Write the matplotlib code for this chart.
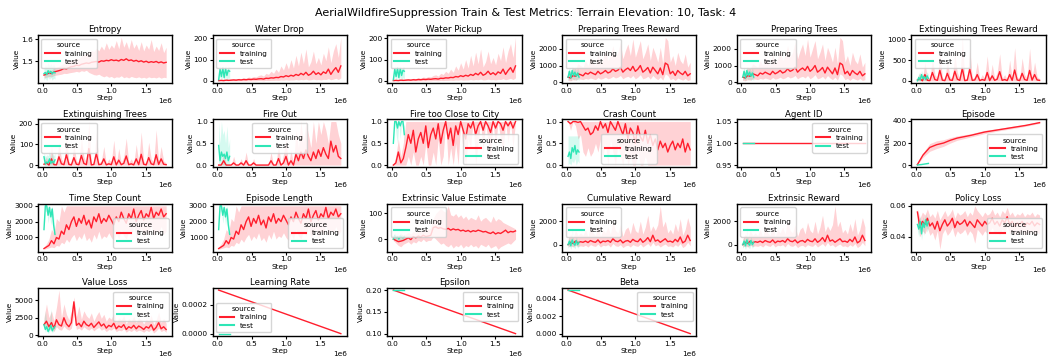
import numpy as np
import matplotlib

matplotlib.use("Agg")
import matplotlib.pyplot as plt

RED = "#ff1e2d"
TEAL = "#2ee6b6"

# x positions of the logged points
train_steps = np.linspace(0.02e6, 1.8e6, 50)
test_steps = [20000, 40000, 60000, 80000, 100000, 120000, 140000, 160000, 180000]
episode_steps = [20000, 100000, 200000, 300000, 400000, 500000, 600000, 800000,
                 1000000, 1200000, 1400000, 1600000, 1800000]
line_steps = [20000, 1800000]
line_test_steps = [20000, 180000]

# ---- Entropy
entropy_mean = [1.438, 1.442, 1.447, 1.445, 1.452, 1.455, 1.458, 1.462, 1.468, 1.466,
                1.472, 1.476, 1.478, 1.483, 1.481, 1.487, 1.490, 1.493, 1.491, 1.496,
                1.498, 1.500, 1.497, 1.503, 1.501, 1.505, 1.503, 1.508, 1.504, 1.506,
                1.502, 1.509, 1.505, 1.512, 1.504, 1.507, 1.501, 1.505, 1.499, 1.503,
                1.497, 1.501, 1.495, 1.499, 1.496, 1.500, 1.494, 1.498, 1.493, 1.496]
entropy_lo = [1.425, 1.428, 1.432, 1.430, 1.436, 1.438, 1.440, 1.442, 1.446, 1.445,
              1.448, 1.450, 1.452, 1.455, 1.452, 1.458, 1.455, 1.460, 1.450, 1.445,
              1.440, 1.438, 1.442, 1.435, 1.430, 1.435, 1.428, 1.432, 1.425, 1.430,
              1.428, 1.435, 1.426, 1.430, 1.425, 1.432, 1.428, 1.426, 1.430, 1.425,
              1.428, 1.424, 1.430, 1.426, 1.428, 1.425, 1.430, 1.424, 1.428, 1.426]
entropy_hi = [1.452, 1.458, 1.462, 1.460, 1.470, 1.474, 1.478, 1.485, 1.492, 1.488,
              1.500, 1.505, 1.510, 1.515, 1.512, 1.525, 1.530, 1.540, 1.535, 1.550,
              1.545, 1.560, 1.548, 1.570, 1.552, 1.585, 1.555, 1.575, 1.560, 1.595,
              1.558, 1.610, 1.565, 1.590, 1.555, 1.600, 1.560, 1.580, 1.550, 1.590,
              1.548, 1.575, 1.555, 1.600, 1.545, 1.570, 1.550, 1.585, 1.540, 1.565]
entropy_test = [1.445, 1.450, 1.440, 1.458, 1.447, 1.455, 1.443, 1.452, 1.448]
entropy_test_lo = [1.415, 1.425, 1.412, 1.430, 1.420, 1.428, 1.415, 1.425, 1.420]
entropy_test_hi = [1.470, 1.485, 1.475, 1.495, 1.480, 1.490, 1.478, 1.488, 1.475]

# ---- Water Drop / Water Pickup
water_mean = [1, 2, 1, 3, 2, 3, 4, 3, 5, 4,
              6, 5, 7, 6, 8, 7, 9, 10, 8, 12,
              11, 14, 13, 16, 15, 20, 18, 24, 20, 26,
              22, 30, 25, 35, 28, 40, 26, 32, 45, 30,
              38, 28, 42, 35, 55, 30, 48, 62, 40, 70]
water_lo = [0, 0, 0, 0, 0, 0, 0, 0, 0, 0,
            0, 0, 0, 0, 0, 0, 1, 1, 0, 2,
            1, 2, 2, 3, 2, 4, 3, 5, 3, 4,
            4, 6, 4, 6, 5, 8, 4, 5, 8, 5,
            6, 4, 7, 6, 10, 5, 8, 12, 6, 14]
water_hi = [3, 5, 4, 8, 6, 8, 10, 8, 12, 10,
            15, 12, 18, 15, 20, 18, 25, 28, 22, 35,
            30, 45, 35, 55, 40, 70, 50, 85, 55, 100,
            60, 120, 70, 135, 80, 150, 65, 90, 140, 80,
            110, 75, 130, 95, 160, 85, 140, 175, 110, 205]
water_test = [5, 55, 20, 60, 15, 58, 25, 50, 45]
water_test_lo = [0, 20, 0, 25, 0, 20, 0, 15, 10]
water_test_hi = [20, 70, 45, 70, 40, 70, 50, 68, 65]

# ---- Preparing Trees (Reward)
prep_mean = [300, 250, 400, 350, 500, 450, 380, 550, 480, 600,
             520, 450, 650, 500, 580, 700, 550, 620, 800, 650,
             720, 900, 600, 750, 850, 700, 950, 650, 780, 1000,
             600, 720, 880, 550, 900, 700, 500, 850, 450, 1150,
             1050, 500, 650, 400, 700, 550, 450, 650, 380, 500]
prep_lo = [100, 80, 150, 120, 200, 180, 150, 220, 180, 250,
           200, 150, 280, 180, 220, 300, 200, 250, 350, 250,
           300, 400, 200, 300, 350, 250, 400, 200, 300, 450,
           200, 250, 350, 180, 400, 250, 150, 300, 120, 500,
           400, 150, 220, 100, 250, 180, 120, 220, 100, 150]
prep_hi = [700, 600, 900, 800, 1100, 1000, 900, 1300, 1000, 1500,
           1200, 1000, 1700, 1100, 1400, 1900, 1300, 1600, 2200, 1500,
           1800, 2400, 1400, 1900, 2300, 1600, 2600, 1500, 2000, 2500,
           1400, 1800, 2300, 1300, 2100, 1700, 1200, 2100, 1100, 2700,
           2500, 1200, 1600, 1000, 1800, 1300, 1100, 1700, 900, 1200]
prep_test = [300, 650, 250, 700, 400, 600, 350, 550, 300]
prep_test_lo = [100, 200, 80, 250, 120, 200, 100, 180, 100]
prep_test_hi = [600, 900, 550, 950, 700, 900, 650, 850, 600]

# ---- Extinguishing Trees Reward
ext_reward_mean = [20, 50, 0, 150, 10, 5, 200, 30, 10, 250,
                   15, 5, 180, 20, 10, 230, 40, 10, 300, 5,
                   15, 280, 10, 20, 150, 5, 30, 10, 200, 5,
                   120, 10, 40, 220, 10, 30, 5, 150, 10, 260,
                   20, 5, 180, 30, 10, 250, 15, 150, 20, 10]
ext_reward_lo = [0] * 50
ext_reward_hi = [80, 200, 20, 450, 60, 30, 550, 150, 50, 700,
                 80, 30, 500, 100, 60, 650, 200, 50, 1050, 30,
                 80, 780, 50, 100, 450, 30, 150, 60, 600, 30,
                 400, 50, 200, 650, 60, 150, 30, 500, 60, 800,
                 100, 30, 550, 150, 60, 780, 80, 450, 100, 50]
ext_reward_test = [0, 80, 20, 150, 50, 100, 30, 120, 60]
ext_reward_test_lo = [0, 0, 0, 20, 0, 10, 0, 10, 0]
ext_reward_test_hi = [50, 200, 100, 250, 150, 200, 100, 220, 150]

# ---- Extinguishing Trees
ext_trees_mean = [4, 10, 0, 30, 2, 1, 40, 6, 2, 50,
                  3, 1, 36, 4, 2, 46, 8, 2, 80, 1,
                  3, 56, 2, 4, 30, 1, 6, 2, 40, 1,
                  24, 2, 8, 44, 2, 6, 1, 30, 2, 52,
                  4, 1, 36, 6, 2, 50, 3, 30, 4, 2]
ext_trees_lo = [0] * 50
ext_trees_hi = [16, 40, 4, 90, 12, 6, 110, 30, 10, 140,
                16, 6, 100, 20, 12, 130, 40, 10, 210, 6,
                16, 156, 10, 20, 90, 6, 30, 12, 120, 6,
                80, 10, 40, 130, 12, 30, 6, 100, 12, 160,
                20, 6, 110, 30, 12, 170, 16, 90, 20, 10]
ext_trees_test = [40, 5, 15, 10, 30, 8, 20, 10, 25]
ext_trees_test_lo = [0, 0, 0, 0, 0, 0, 0, 0, 0]
ext_trees_test_hi = [60, 40, 50, 45, 70, 40, 60, 45, 55]

# ---- Fire Out
fire_out_mean = [0, 0, 0.1, 0, 0, 0, 0.05, 0, 0, 0.05,
                 0, 0.1, 0, 0, 0.05, 0, 0, 0, 0, 0,
                 0, 0.1, 0, 0, 0.15, 0, 0.05, 0.2, 0, 0.1,
                 0, 0.25, 0.1, 0.3, 0.15, 0.35, 0.2, 0.1, 0.3, 0.15,
                 0.35, 0.2, 0.4, 0.25, 0.15, 0.55, 0.3, 0.45, 0.2, 0.15]
fire_out_lo = [0] * 50
fire_out_hi = [0, 0, 0.3, 0, 0, 0, 0.2, 0, 0, 0.15,
               0, 0.3, 0, 0, 0.15, 0, 0, 0, 0, 0,
               0, 0.3, 0, 0, 0.5, 0, 0.25, 0.6, 0, 0.35,
               0, 0.8, 0.4, 1.0, 0.5, 1.0, 0.7, 0.4, 1.0, 0.5,
               1.0, 0.7, 1.0, 0.8, 0.5, 1.0, 1.0, 1.0, 0.7, 0.5]
fire_out_test = [0.45, 0.1, 0.3, 0.2, 0.25, 0.15, 0.3, 0.1, 0.2]
fire_out_test_lo = [0, 0, 0, 0, 0, 0, 0, 0, 0]
fire_out_test_hi = [1.0, 0.5, 1.0, 0.7, 0.8, 0.5, 0.9, 0.4, 0.6]

# ---- Fire too Close to City
fire_close_mean = [0.0, 0.05, 0.3, 0.05, 0.15, 0.4, 0.7, 0.5, 0.8, 0.3,
                   0.6, 0.75, 0.5, 0.9, 0.4, 0.7, 0.85, 0.6, 0.95, 0.5,
                   0.8, 1.0, 0.6, 0.85, 0.45, 0.9, 0.7, 1.0, 0.8, 0.6,
                   0.95, 0.85, 1.0, 0.7, 0.9, 1.0, 0.8, 1.0, 0.9, 0.75,
                   1.0, 0.85, 1.0, 0.95, 0.8, 1.0, 0.9, 1.0, 0.85, 1.0]
fire_close_lo = [0, 0, 0, 0, 0, 0, 0.2, 0, 0.3, 0,
                 0, 0.2, 0, 0.5, 0, 0, 0.3, 0, 0.6, 0,
                 0.2, 1.0, 0, 0.4, 0, 0.5, 0, 1.0, 0.3, 0,
                 0.6, 0.4, 1.0, 0, 0.5, 1.0, 0.3, 1.0, 0.5, 0.2,
                 1.0, 0.4, 1.0, 0.6, 0.3, 1.0, 0.5, 1.0, 0.4, 1.0]
fire_close_hi = [0, 0.2, 0.6, 0.2, 0.5, 1, 1, 1, 1, 1,
                 1, 1, 1, 1, 1, 1, 1, 1, 1, 1,
                 1, 1, 1, 1, 1, 1, 1, 1, 1, 1,
                 1, 1, 1, 1, 1, 1, 1, 1, 1, 1,
                 1, 1, 1, 1, 1, 1, 1, 1, 1, 1]
fire_close_test = [0.5, 1.0, 1.0, 0.85, 1.0, 0.9, 1.0, 1.0, 0.7]
fire_close_test_lo = [0.5, 1.0, 0.7, 0.5, 1.0, 0.6, 1.0, 0.8, 0.5]
fire_close_test_hi = [0.5, 1, 1, 1, 1, 1, 1, 1, 0.9]

# ---- Crash Count
crash_mean = [1.0, 0.95, 1.0, 1.0, 0.98, 1.0, 0.9, 0.8, 0.85, 0.7,
              0.75, 0.9, 0.8, 1.0, 0.85, 0.95, 0.75, 1.0, 0.9, 0.8,
              1.0, 0.85, 0.7, 0.95, 0.6, 0.85, 0.75, 0.5, 0.9, 0.65,
              0.55, 0.8, 0.5, 0.7, 0.45, 0.6, 0.35, 0.55, 0.4, 0.5,
              0.3, 0.45, 0.55, 0.35, 0.5, 0.4, 0.6, 0.3, 0.5, 0.35]
crash_lo = [1.0, 0.8, 1.0, 0.9, 0.6, 0.7, 0.3, 0.2, 0.4, 0.2,
            0.3, 0.5, 0.3, 0.6, 0.2, 0.5, 0.0, 0.6, 0.3, 0.0,
            0.5, 0.2, 0.0, 0.4, 0.0, 0.2, 0.0, 0.0, 0.3, 0.0,
            0, 0.2, 0, 0, 0, 0, 0, 0, 0, 0,
            0, 0, 0, 0, 0, 0, 0, 0, 0, 0]
crash_hi = [1.0] * 50
crash_test = [0.2, 0.3, 0.15, 0.4, 0.3, 0.45, 0.25, 0.35, 0.3]
crash_test_lo = [0, 0.05, 0, 0.1, 0.05, 0.15, 0, 0.1, 0.05]
crash_test_hi = [0.67, 0.67, 0.67, 0.67, 0.67, 0.67, 0.67, 0.67, 0.67]

# ---- Agent ID
agent_id = [1.0, 1.0]
agent_id_test = [1.0, 1.0]

# ---- Episode
episode_mean = [5, 90, 160, 185, 200, 225, 245, 270, 300, 320, 340, 360, 385]
episode_lo = [5, 70, 125, 150, 170, 200, 225, 255, 285, 310, 330, 352, 378]
episode_hi = [5, 110, 195, 220, 230, 250, 265, 285, 315, 332, 352, 370, 395]
episode_test = [0, 2, 4, 5, 7, 9, 11, 13, 15]
episode_test_lo = [0, 1, 2, 3, 5, 7, 9, 11, 13]
episode_test_hi = [0, 3, 6, 7, 9, 11, 13, 15, 17]

# ---- Time Step Count / Episode Length
steps_mean = [300, 400, 500, 800, 600, 1000, 900, 1400, 1200, 1800,
              1500, 2000, 2300, 1700, 2200, 1900, 2400, 1800, 2100, 1600,
              2300, 2000, 2500, 1900, 2200, 2000, 2400, 2100, 1800, 2300,
              2000, 2600, 2200, 1900, 2500, 2200, 2800, 2000, 2400, 2700,
              2100, 2500, 2300, 2900, 2200, 2600, 2400, 2800, 2300, 2500]
steps_lo = [250, 300, 350, 400, 350, 500, 450, 700, 600, 900,
            700, 1000, 1200, 800, 1100, 900, 1300, 800, 1000, 700,
            1200, 900, 1400, 900, 1100, 1000, 1300, 1000, 800, 1200,
            900, 1500, 1100, 900, 1400, 1100, 1700, 1000, 1300, 1600,
            1000, 1400, 1200, 1800, 1100, 1500, 1300, 1700, 1200, 1400]
steps_hi = [400, 600, 900, 1500, 1300, 2200, 2000, 3000, 2600, 3000,
            3000, 3000, 3000, 3000, 3000, 3000, 3000, 3000, 3000, 3000,
            3000, 3000, 3000, 3000, 3000, 3000, 3000, 3000, 3000, 3000,
            3000, 3000, 3000, 3000, 3000, 3000, 3000, 3000, 3000, 3000,
            3000, 3000, 3000, 3000, 3000, 3000, 3000, 3000, 3000, 3000]
steps_test = [1500, 3000, 3000, 2400, 2900, 2300, 2800, 1800, 1200]
steps_test_lo = [1500, 2600, 2700, 1900, 2500, 1800, 2300, 1300, 1000]
steps_test_hi = [1500, 3000, 3000, 2900, 3000, 2800, 3000, 2300, 1400]

# ---- Extrinsic Value Estimate
value_est_mean = [0, -5, -10, -8, -5, 0, 5, -2, 10, 5,
                  12, 8, 15, 10, 12, 15, 45, 48, 42, 45,
                  40, 38, 42, 35, 40, 36, 38, 32, 35, 30,
                  34, 28, 33, 30, 35, 32, 28, 30, 25, 22,
                  28, 20, 25, 22, 28, 35, 25, 30, 28, 32]
value_est_lo = [-5, -15, -25, -30, -20, -15, -10, -20, -10, -15,
                -5, -10, 0, -10, -5, -5, 10, 0, -10, -20,
                -15, -25, -30, -20, -35, -25, -30, -20, -35, -25,
                -30, -20, -30, -25, -35, -20, -25, -30, -20, -35,
                -30, -25, -40, -30, -25, -20, -15, -20, -10, 0]
value_est_hi = [5, 10, 15, 20, 15, 20, 25, 20, 30, 25,
                35, 30, 40, 35, 40, 45, 80, 100, 110, 120,
                110, 105, 130, 95, 90, 100, 85, 95, 80, 90,
                75, 85, 80, 75, 95, 70, 80, 85, 75, 65,
                90, 70, 80, 75, 65, 60, 55, 50, 45, 40]
value_est_test = [0, 15, 5, 10, 0, 12, 8, 5, 10]
value_est_test_lo = [-10, 0, -8, -5, -12, -2, -5, -8, -3]
value_est_test_hi = [10, 25, 18, 22, 12, 25, 20, 15, 20]

# ---- Cumulative Reward / Extrinsic Reward
reward_mean = [0, 200, 100, 300, 150, 250, 200, 300, 180, 350,
               250, 200, 400, 150, 300, 250, 350, 200, 500, 300,
               250, 400, 150, 300, 350, 200, 450, 300, 250, 500,
               200, 350, 600, 250, 800, 300, 400, 200, 350, 500,
               250, 300, 200, 450, 250, 650, 150, 300, 800, 350]
reward_lo = [-200, -100, -200, -50, -150, -100, -150, -50, -200, 0,
             -100, -150, 50, -200, -50, -100, 0, -200, 100, -100,
             -150, 0, -250, -100, -50, -200, 0, -100, -150, 50,
             -200, -50, 100, -150, 200, -100, 0, -200, -50, 50,
             -150, -100, -200, 0, -150, 100, -250, -100, 200, -100]
reward_hi = [500, 900, 600, 1200, 800, 1000, 800, 1300, 700, 1500,
             1000, 800, 1700, 700, 1300, 1000, 1500, 900, 2000, 1200,
             1000, 1700, 700, 1300, 1500, 900, 1900, 1200, 1000, 2000,
             900, 1500, 2500, 1100, 1600, 1200, 1700, 3300, 1500, 2000,
             1000, 1300, 900, 1800, 1100, 2200, 800, 1300, 2300, 1500]
reward_test = [0, 300, -100, 400, 100, -50, 350, 0, 200]
reward_test_lo = [-300, -100, -400, 0, -200, -350, 0, -300, -100]
reward_test_hi = [300, 700, 300, 1500, 500, 300, 700, 300, 500]

# ---- Policy Loss
policy_mean = [0.056, 0.046, 0.050, 0.048, 0.052, 0.047, 0.049, 0.045, 0.050, 0.044,
               0.048, 0.051, 0.047, 0.049, 0.052, 0.046, 0.050, 0.048, 0.049, 0.051,
               0.047, 0.050, 0.048, 0.046, 0.051, 0.049, 0.047, 0.050, 0.048, 0.049,
               0.052, 0.048, 0.050, 0.047, 0.051, 0.049, 0.053, 0.048, 0.050, 0.047,
               0.049, 0.048, 0.050, 0.047, 0.049, 0.048, 0.050, 0.047, 0.049, 0.048]
policy_lo = [0.050, 0.040, 0.044, 0.042, 0.046, 0.041, 0.043, 0.038, 0.044, 0.032,
             0.042, 0.045, 0.041, 0.043, 0.046, 0.040, 0.044, 0.042, 0.043, 0.045,
             0.041, 0.044, 0.042, 0.036, 0.045, 0.043, 0.041, 0.044, 0.042, 0.043,
             0.046, 0.042, 0.044, 0.041, 0.045, 0.043, 0.047, 0.042, 0.044, 0.041,
             0.043, 0.042, 0.044, 0.041, 0.043, 0.042, 0.044, 0.041, 0.043, 0.042]
policy_hi = [0.058, 0.052, 0.056, 0.054, 0.058, 0.053, 0.055, 0.052, 0.057, 0.051,
             0.054, 0.057, 0.053, 0.055, 0.058, 0.052, 0.056, 0.054, 0.055, 0.057,
             0.053, 0.056, 0.054, 0.060, 0.057, 0.055, 0.053, 0.056, 0.054, 0.055,
             0.058, 0.054, 0.056, 0.053, 0.057, 0.055, 0.059, 0.054, 0.056, 0.053,
             0.055, 0.054, 0.056, 0.053, 0.055, 0.054, 0.056, 0.053, 0.055, 0.054]
policy_test = [0.048, 0.045, 0.050, 0.042, 0.049, 0.046, 0.051, 0.047, 0.050]
policy_test_lo = [0.044, 0.040, 0.046, 0.038, 0.045, 0.041, 0.047, 0.043, 0.046]
policy_test_hi = [0.052, 0.050, 0.054, 0.047, 0.053, 0.051, 0.055, 0.051, 0.053]

# ---- Value Loss
vloss_mean = [1500, 2000, 1200, 1800, 1000, 2200, 1500, 1300, 2500, 1600,
              1200, 1800, 4800, 1400, 1700, 1200, 2000, 1500, 1300, 1700,
              1100, 1500, 1900, 1300, 1600, 1000, 1400, 1200, 1700, 900,
              1300, 1100, 1500, 800, 1200, 1000, 1400, 900, 1300, 1100,
              800, 1200, 1000, 1500, 700, 1100, 1800, 900, 1200, 800]
vloss_lo = [1000, 1200, 700, 1000, 500, 1200, 800, 700, 1300, 900,
            700, 1000, 3000, 800, 1000, 700, 1200, 900, 700, 1000,
            600, 900, 1100, 700, 900, 500, 800, 700, 1000, 500,
            700, 600, 900, 400, 700, 500, 800, 500, 700, 600,
            400, 700, 500, 800, 300, 600, 1000, 500, 700, 400]
vloss_hi = [2500, 4500, 2500, 3500, 2000, 4000, 6500, 2500, 4500, 3000,
            2200, 3500, 5500, 2600, 4200, 2300, 3500, 2800, 2400, 3200,
            2000, 2800, 3400, 2400, 3000, 2000, 2600, 2300, 3200, 1800,
            2500, 2200, 2800, 1600, 2400, 2000, 2700, 1800, 2500, 2200,
            1600, 2300, 2000, 2900, 1500, 2200, 3300, 1800, 2400, 1700]
vloss_test = [1500, 800, 1200, 500, 900, 1400, 600, 1000, 1200]
vloss_test_lo = [1200, 400, 800, 200, 500, 1000, 300, 600, 900]
vloss_test_hi = [2000, 3500, 1800, 1200, 1500, 3800, 1200, 1500, 1500]

# ---- schedules
lr_train = [0.0003, 0.0]
lr_test = [0.0, 0.0]
eps_train = [0.2, 0.1]
eps_test = [0.2, 0.2]
beta_train = [0.005, 0.0]
beta_test = [0.005, 0.005]

panels = [
    ("Entropy", train_steps, entropy_mean, entropy_lo, entropy_hi,
     test_steps, entropy_test, entropy_test_lo, entropy_test_hi, "upper left"),
    ("Water Drop", train_steps, water_mean, water_lo, water_hi,
     test_steps, water_test, water_test_lo, water_test_hi, "upper left"),
    ("Water Pickup", train_steps, water_mean, water_lo, water_hi,
     test_steps, water_test, water_test_lo, water_test_hi, "upper left"),
    ("Preparing Trees Reward", train_steps, prep_mean, prep_lo, prep_hi,
     test_steps, prep_test, prep_test_lo, prep_test_hi, "upper left"),
    ("Preparing Trees", train_steps, prep_mean, prep_lo, prep_hi,
     test_steps, prep_test, prep_test_lo, prep_test_hi, "upper left"),
    ("Extinguishing Trees Reward", train_steps, ext_reward_mean, ext_reward_lo, ext_reward_hi,
     test_steps, ext_reward_test, ext_reward_test_lo, ext_reward_test_hi, "upper left"),
    ("Extinguishing Trees", train_steps, ext_trees_mean, ext_trees_lo, ext_trees_hi,
     test_steps, ext_trees_test, ext_trees_test_lo, ext_trees_test_hi, "upper left"),
    ("Fire Out", train_steps, fire_out_mean, fire_out_lo, fire_out_hi,
     test_steps, fire_out_test, fire_out_test_lo, fire_out_test_hi, "upper center"),
    ("Fire too Close to City", train_steps, fire_close_mean, fire_close_lo, fire_close_hi,
     test_steps, fire_close_test, fire_close_test_lo, fire_close_test_hi, "lower right"),
    ("Crash Count", train_steps, crash_mean, crash_lo, crash_hi,
     test_steps, crash_test, crash_test_lo, crash_test_hi, "lower center"),
    ("Agent ID", line_steps, agent_id, agent_id, agent_id,
     line_test_steps, agent_id_test, agent_id_test, agent_id_test, "upper right"),
    ("Episode", episode_steps, episode_mean, episode_lo, episode_hi,
     test_steps, episode_test, episode_test_lo, episode_test_hi, "lower right"),
    ("Time Step Count", train_steps, steps_mean, steps_lo, steps_hi,
     test_steps, steps_test, steps_test_lo, steps_test_hi, "lower right"),
    ("Episode Length", train_steps, steps_mean, steps_lo, steps_hi,
     test_steps, steps_test, steps_test_lo, steps_test_hi, "lower right"),
    ("Extrinsic Value Estimate", train_steps, value_est_mean, value_est_lo, value_est_hi,
     test_steps, value_est_test, value_est_test_lo, value_est_test_hi, "upper left"),
    ("Cumulative Reward", train_steps, reward_mean, reward_lo, reward_hi,
     test_steps, reward_test, reward_test_lo, reward_test_hi, "upper left"),
    ("Extrinsic Reward", train_steps, reward_mean, reward_lo, reward_hi,
     test_steps, reward_test, reward_test_lo, reward_test_hi, "upper left"),
    ("Policy Loss", train_steps, policy_mean, policy_lo, policy_hi,
     test_steps, policy_test, policy_test_lo, policy_test_hi, "lower right"),
    ("Value Loss", train_steps, vloss_mean, vloss_lo, vloss_hi,
     test_steps, vloss_test, vloss_test_lo, vloss_test_hi, "upper right"),
    ("Learning Rate", line_steps, lr_train, lr_train, lr_train,
     line_test_steps, lr_test, lr_test, lr_test, "lower left"),
    ("Epsilon", line_steps, eps_train, eps_train, eps_train,
     line_test_steps, eps_test, eps_test, eps_test, "upper right"),
    ("Beta", line_steps, beta_train, beta_train, beta_train,
     line_test_steps, beta_test, beta_test, beta_test, "upper right"),
]

fig, axes = plt.subplots(4, 6, figsize=(10.52, 3.58), dpi=100)
fig.subplots_adjust(left=0.036, right=0.994, bottom=0.062, top=0.902,
                    wspace=0.30, hspace=0.76)
fig.suptitle("AerialWildfireSuppression Train & Test Metrics: Terrain Elevation: 10, Task: 4",
             fontsize=8, y=0.978)

for ax, p in zip(axes.flat, panels):
    title, tx, tm, tlo, thi, ex, em, elo, ehi, loc = p
    ax.fill_between(tx, tlo, thi, color=RED, alpha=0.2, lw=0)
    ax.plot(tx, tm, color=RED, lw=1.0, label="training")
    ax.fill_between(ex, elo, ehi, color=TEAL, alpha=0.2, lw=0)
    ax.plot(ex, em, color=TEAL, lw=1.0, label="test")
    ax.set_title(title, fontsize=6.2, pad=2)
    ax.set_xlabel("Step", fontsize=5.3, labelpad=1)
    ax.set_ylabel("Value", fontsize=5.3, labelpad=1)
    ax.tick_params(labelsize=5.3, length=2, width=0.8, pad=1.5)
    for s in ax.spines.values():
        s.set_linewidth(1.0)
    ax.xaxis.get_offset_text().set_fontsize(5.3)
    ax.yaxis.get_offset_text().set_fontsize(5.3)
    ax.set_xticks([0, 0.5e6, 1.0e6, 1.5e6])
    leg = ax.legend(title="source", loc=loc, fontsize=5.2, title_fontsize=5.2,
                    borderpad=0.5, labelspacing=0.3, handlelength=2.0,
                    handletextpad=0.8)
    for h in leg.get_lines():
        h.set_linewidth(1.5)

for ax in axes.flat[len(panels):]:
    ax.axis("off")

fig.savefig("out.png", dpi=100)
